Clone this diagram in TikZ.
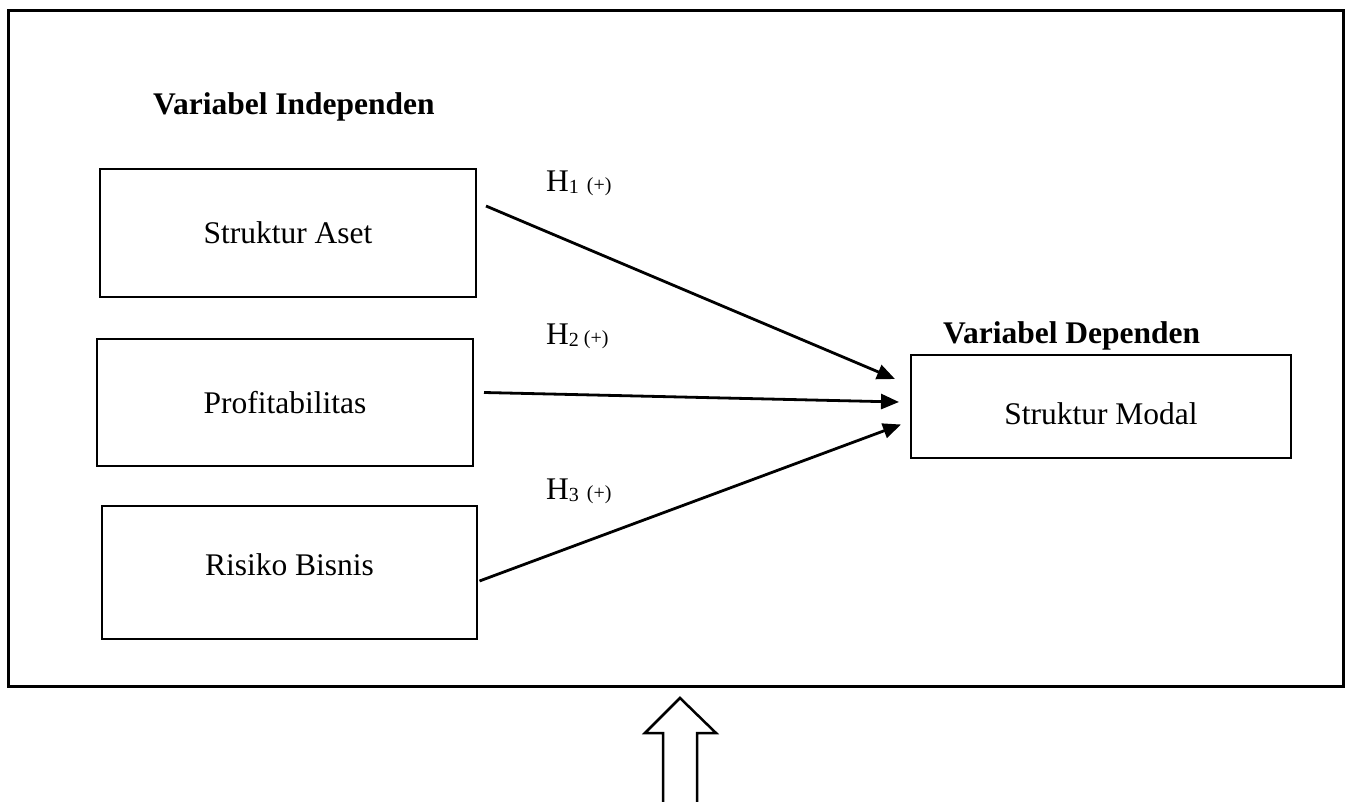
\documentclass[tikz,border=0pt]{standalone}
\usepackage{fontspec}
\setmainfont{Liberation Serif}
\usetikzlibrary{arrows.meta}
\begin{document}
\begin{tikzpicture}[x=1pt,y=-1pt,
  box/.style={draw=black,line width=2pt,inner sep=0pt,font=\fontsize{31.5}{36}\selectfont},
  conn/.style={line width=2.8pt,-{Triangle[length=18pt,width=15pt]}},
  hl/.style={font=\fontsize{31.5}{36}\selectfont,inner sep=0pt,anchor=base west},
  title/.style={font=\fontsize{31.5}{36}\selectfont\bfseries,inner sep=0pt,anchor=base west}]
\useasboundingbox (0,0) rectangle (1349,802);
\draw[line width=3pt] (8,11) rectangle (1343,686);
\node[title] (ti) at (153,115) {Variabel Independen};
\node[title] (td) at (943,343) {Variabel Dependen};
\node[box,minimum width=376pt,minimum height=128pt] (sa) at (288,233) {Struktur Aset};
\node[box,minimum width=376pt,minimum height=127pt] (pr) at (285,402.5) {Profitabilitas};
\node[box,minimum width=375pt,minimum height=133pt] (rb) at (289.5,572.5) {\raisebox{5pt}[22pt][7pt]{Risiko Bisnis}};
\node[box,minimum width=380pt,minimum height=103pt] (sm) at (1101,406.5) {\raisebox{-10pt}[22pt][7pt]{Struktur Modal}};
\draw[conn] ([shift={(9,-27)}]sa.east) -- ([shift={(-15,25)}]sm.north west);
\draw[conn] ([shift={(10,-10)}]pr.east) -- ([shift={(-11,-4.5)}]sm.west);
\draw[conn] ([shift={(1.5,8.5)}]rb.east) -- ([shift={(-9,18)}]sm.west);
\node[hl] (h1) at (546,192) {H\raisebox{-2pt}{\fontsize{20}{22}\selectfont 1}\hspace{8pt}{\fontsize{20}{22}\selectfont (+)}};
\node[hl] (h2) at (546,344) {H\raisebox{-2pt}{\fontsize{20}{22}\selectfont 2}\hspace{5pt}{\fontsize{20}{22}\selectfont (+)}};
\node[hl] (h3) at (546,499) {H\raisebox{-2pt}{\fontsize{20}{22}\selectfont 3}\hspace{8pt}{\fontsize{20}{22}\selectfont (+)}};
\draw[line width=2.5pt,fill=white] (663,802) -- (663,733) -- (645,733) -- (680,698) -- (716,733) -- (697,733) -- (697,802);
\end{tikzpicture}
\end{document}
